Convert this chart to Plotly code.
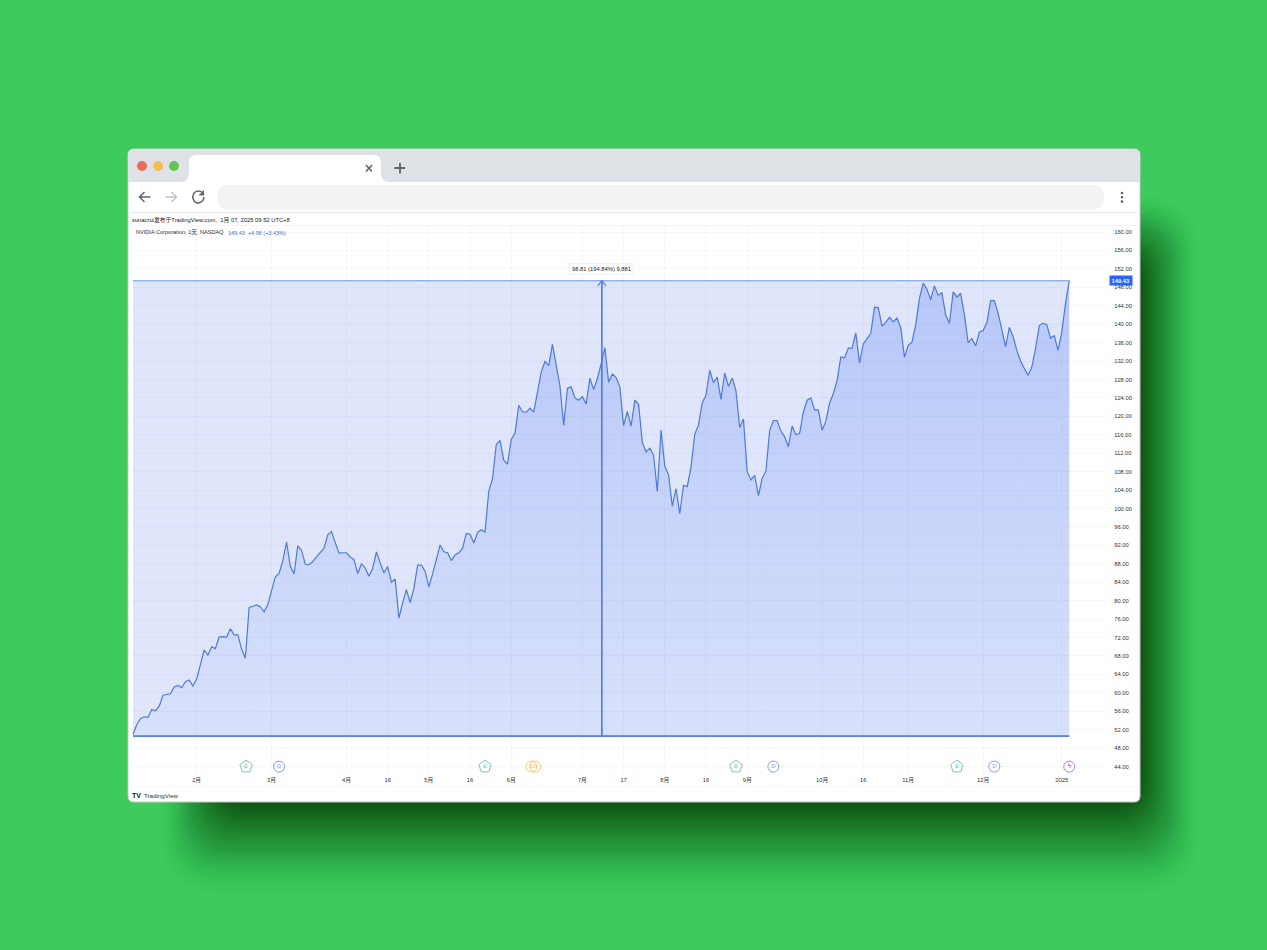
import plotly.graph_objects as go

W, H = 1267, 950

# ---- data (NVDA daily close) ----
jan24 = [51.0,53.1,54.4,54.8,54.7,56.4,56.1,57.1,59.5,59.6,59.8,61.3,61.6,61.1,62.4,62.8,61.5]
feb24 = [63.0,66.1,69.3,68.2,70.0,69.6,72.1,72.2,72.1,73.9,72.6,72.6,69.5,67.5,78.5,78.8,79.1,78.7,77.6,79.1]
mar24 = [82.3,85.2,85.9,88.7,92.7,87.5,85.8,91.9,90.9,87.9,87.8,88.5,89.5,90.4,91.4,94.3,95.0,92.6,90.3,90.4]
apr24 = [90.4,89.5,88.9,85.9,88.0,87.1,85.3,87.0,90.6,88.2,86.0,87.4,84.0,84.7,76.2,79.5,82.4,79.6,82.6,87.7,87.7,86.4]
may24 = [83.0,85.8,88.8,92.1,90.6,90.4,88.7,89.9,90.4,91.4,94.6,94.4,92.5,94.8,95.4,94.9,103.8,106.5,113.9,114.8,110.5,109.6]
jun24 = [115.0,116.4,122.4,121.0,120.9,121.8,120.9,125.2,129.6,131.9,131.0,135.6,130.8,126.6,118.1,126.1,126.4,124.0,123.5]
jul24 = [124.3,122.7,128.3,125.8,128.2,131.4,134.9,127.4,129.2,128.4,126.4,118.0,121.1,117.9,123.5,122.6,114.3,112.3,113.1,111.6,103.7,117.0]
aug24 = [109.2,107.3,100.5,104.3,98.9,105.0,104.8,109.0,116.1,118.1,122.9,124.6,130.0,127.3,128.5,123.7,129.4,126.5,128.3,125.6,117.6,119.4]
sep24 = [108.0,106.2,107.2,102.8,106.5,108.1,116.9,119.1,119.1,116.8,115.6,113.4,117.9,116.0,116.3,120.9,123.5,124.0,121.4,121.4]
oct24 = [117.0,118.9,122.9,124.9,127.7,132.9,132.7,134.8,134.8,138.1,131.6,135.7,136.9,138.0,143.7,143.6,139.6,140.4,141.5,140.5,141.3,139.3,132.8]
nov24 = [135.4,136.1,139.9,145.6,148.9,147.6,145.3,148.3,146.3,146.8,142.0,140.2,147.0,145.9,146.7,142.0,136.0,136.9,135.3,138.3]
dec24 = [138.6,140.3,145.1,145.1,142.4,138.8,135.1,139.3,137.3,134.3,132.0,130.4,128.9,130.7,134.7,139.7,140.2,139.9,137.0,137.5,134.3]
jan25 = [138.3,144.5,149.43]
close = jan24+feb24+mar24+apr24+may24+jun24+jul24+aug24+sep24+oct24+nov24+dec24+jan25
bars = list(range(len(close)))

tick_bars = [17,37,57,68,79,90,101,120,131,142,153,164,184,195,207,227,248]
tick_text = ["2月","3月","4月","16","5月","16","6月","7月","17","8月","16","9月","10月","16","11月","12月","2025"]

range_low, range_high = 50.62, 149.43
range_bar = 125.2
range_label = "98.81 (194.84%) 9,881"

earn_bars = [30.2, 94, 161, 220]
div_bars = [39, 171, 230]
split_bars = [107.4, 106.4]
flash_bars = [250]
event_level = 44

CH = "Liberation Sans, Noto Sans CJK SC, sans-serif"
BLUE = "#4E79DE"

# ---- pixel helpers for the browser-window decoration ----
def px(x): return x / W
def py(y): return 1 - y / H
def P(x, y): return f"{px(x):.5f},{py(y):.5f}"

def rrect(x0, y0, x1, y1, r, fill, op=1.0, line=None):
    path = (f"M{P(x0+r,y0)} L{P(x1-r,y0)} Q{P(x1,y0)} {P(x1,y0+r)} L{P(x1,y1-r)} "
            f"Q{P(x1,y1)} {P(x1-r,y1)} L{P(x0+r,y1)} Q{P(x0,y1)} {P(x0,y1-r)} "
            f"L{P(x0,y0+r)} Q{P(x0,y0)} {P(x0+r,y0)} Z")
    return dict(type="path", xref="paper", yref="paper", path=path, fillcolor=fill, opacity=op,
                line=dict(width=0) if not line else line, layer="below")

def stroke(path, color, w=1.6):
    return dict(type="path", xref="paper", yref="paper", path=path, line=dict(color=color, width=w), layer="below")

def circle(cx, cy, r, fill):
    return dict(type="circle", xref="paper", yref="paper", x0=px(cx-r), x1=px(cx+r), y0=py(cy+r), y1=py(cy-r),
                fillcolor=fill, line=dict(width=0), layer="below")

shapes = []
# soft shadow built from stacked translucent rounded rectangles
LAYERS = 48
for k in range(LAYERS):
    t = k / (LAYERS - 1)
    shapes.append(rrect(160+60*t, 195+60*t, 1200-60*t, 895-92*t, 60-25*t, "#001a0a", 0.003+0.042*t**1.5))

# window
shapes.append(rrect(128, 149, 1140, 802, 6, "#FFFFFF", line=dict(color="#C9CDC9", width=1)))
tabstrip = (f"M{P(128,182)} L{P(128,155)} Q{P(128,149)} {P(134,149)} L{P(1134,149)} Q{P(1140,149)} {P(1140,155)} "
            f"L{P(1140,182)} Z")
shapes.append(dict(type="path", xref="paper", yref="paper", path=tabstrip, fillcolor="#DEE1E6", line=dict(width=0), layer="below"))
tab = (f"M{P(181,182)} Q{P(189,181)} {P(189,174)} L{P(189,162)} Q{P(189,155)} {P(196,155)} L{P(374,155)} "
       f"Q{P(381,155)} {P(381,162)} L{P(381,174)} Q{P(381,181)} {P(389,182)} Z")
shapes.append(dict(type="path", xref="paper", yref="paper", path=tab, fillcolor="#FFFFFF", line=dict(width=0), layer="below"))
shapes.append(rrect(217, 185, 1104, 209.5, 12, "#F1F3F4"))
shapes.append(dict(type="line", xref="paper", yref="paper", x0=px(130), x1=px(1138), y0=py(212.5), y1=py(212.5),
                   line=dict(color="#E8EAED", width=1), layer="below"))
shapes.append(dict(type="line", xref="paper", yref="paper", x0=px(131), x1=px(1137), y0=py(225.5), y1=py(225.5),
                   line=dict(color="#F3F4F6", width=1), layer="below"))
shapes.append(dict(type="line", xref="paper", yref="paper", x0=px(131), x1=px(1137), y0=py(786.5), y1=py(786.5),
                   line=dict(color="#F6F7F8", width=1), layer="below"))
shapes += [circle(142,166,5,"#EC6A5E"), circle(158,166,5,"#F4BF4F"), circle(174,166,5,"#61C554")]
# tab close, new tab
shapes.append(stroke(f"M{P(366,165)} L{P(372,171.5)} M{P(372,165)} L{P(366,171.5)}", "#5F6368", 1.5))
shapes.append(stroke(f"M{P(400,163)} L{P(400,173.5)} M{P(394.5,168)} L{P(405,168)}", "#5F6368", 1.8))
# nav icons
shapes.append(stroke(f"M{P(150.5,197)} L{P(139.5,197)} M{P(144.5,192)} L{P(139.5,197)} L{P(144.5,202)}", "#5F6368", 1.5))
shapes.append(stroke(f"M{P(165.5,197)} L{P(176.5,197)} M{P(171.5,192)} L{P(176.5,197)} L{P(171.5,202)}", "#BDC1C6", 1.4))
shapes.append(stroke(f"M{P(202.5,192.5)} Q{P(198,189.5)} {P(194.5,192.5)} Q{P(191,197)} {P(194.5,201.5)} Q{P(199,204.5)} {P(202.5,201)} Q{P(204,199)} {P(203.8,197)}", "#5F6368", 1.5))
shapes.append(dict(type="path", xref="paper", yref="paper", path=f"M{P(204,190)} L{P(204,195.5)} L{P(198.5,195.5)} Z",
                   fillcolor="#5F6368", line=dict(width=0), layer="below"))
shapes += [circle(1122,193,1.3,"#5F6368"), circle(1122,197.3,1.3,"#5F6368"), circle(1122,201.6,1.3,"#5F6368")]

fig = go.Figure()
# outer range rectangle
fig.add_trace(go.Scatter(x=[bars[0], bars[-1]], y=[range_low, range_low], mode="lines",
                         line=dict(color=BLUE, width=1.1), hoverinfo="skip"))
fig.add_trace(go.Scatter(x=[bars[0], bars[-1]], y=[range_high, range_high], mode="lines", fill="tonexty",
                         fillcolor="rgba(60,105,235,0.165)", line=dict(color="#6F93E6", width=1.1), hoverinfo="skip"))
# base for area, then price area
fig.add_trace(go.Scatter(x=[bars[0], bars[-1]], y=[range_low, range_low], mode="lines",
                         line=dict(color=BLUE, width=1.1), hoverinfo="skip"))
fig.add_trace(go.Scatter(x=bars, y=close, mode="lines", fill="tonexty",
                         fillgradient=dict(type="vertical",
                                           colorscale=[[0, "rgba(60,105,235,0.04)"], [1, "rgba(60,105,235,0.25)"]]),
                         line=dict(color=BLUE, width=1.2), hoverinfo="skip"))
# vertical range arrow
fig.add_trace(go.Scatter(x=[range_bar, range_bar], y=[range_low, range_high], mode="lines",
                         line=dict(color=BLUE, width=1.6), hoverinfo="skip"))
fig.add_trace(go.Scatter(x=[range_bar-1.1, range_bar, range_bar+1.1], y=[range_high-1.1, range_high, range_high-1.1],
                         mode="lines", line=dict(color=BLUE, width=1.2), hoverinfo="skip"))
# event markers
def events(xs, symbol, color, label, size=11, fs=6):
    fig.add_trace(go.Scatter(x=xs, y=[event_level]*len(xs), mode="markers+text", text=[label]*len(xs),
                             textposition="middle center", textfont=dict(size=fs, color=color, family=CH),
                             marker=dict(symbol=symbol, size=size, color=color, line=dict(color=color, width=1)),
                             hoverinfo="skip"))
events(earn_bars, "pentagon-open", "#7CC7AE", "E", 13)
events(div_bars, "circle-open", "#7F9CEE", "D", 11)
events(split_bars, "circle-open", "#F5C66F", "S", 11)
events(flash_bars, "circle-open", "#B77BD8", "<b>ϟ</b>", 11, 7)

annotations = []
def text(x, y, s, size=6, color="#333333", anchor="left", **kw):
    annotations.append(dict(xref="paper", yref="paper", x=px(x), y=py(y), text=s, showarrow=False,
                            xanchor=anchor, yanchor="middle", font=dict(size=size, color=color, family=CH), **kw))

text(129.5, 219.5, "sunacrui发布于TradingView.com,  1月 07, 2025 09:52 UTC+8", 5.8, "#222222")
text(134, 232.8, "NVIDIA Corporation, 1天, NASDAQ", 5.6, "#333333")
text(225.5, 232.8, "149.43  +4.96 (+3.43%)", 5.5, "#3B6FE0")
text(130, 795, "<b>TV</b>", 7, "#111111")
text(141.5, 795, "TradingView", 6.2, "#333333")
# measuring label and last-price tag
annotations.append(dict(xref="x", yref="y", x=range_bar, y=range_high, yshift=11.5, text=range_label, showarrow=False,
                        bgcolor="#FFFFFF", bordercolor="#F1F1F3", borderwidth=1, borderpad=2,
                        font=dict(size=5.8, color="#222222", family=CH)))
annotations.append(dict(xref="paper", yref="y", x=px(1121), xanchor="center", y=range_high, text="<b>149.43</b>", showarrow=False,
                        bgcolor="#2962FF", borderpad=1.5, font=dict(size=5.8, color="#FFFFFF", family=CH)))

y_top = 160 + (232 - 226) / 4.609
y_bot = 44 - (773 - 766.6) / 4.609
x_lo = (131 - 133) / 3.745
x_hi = (1105 - 133) / 3.745

fig.update_layout(
    width=W, height=H, autosize=False, showlegend=False, hovermode=False,
    margin=dict(l=0, r=0, t=0, b=0),
    paper_bgcolor="#3ECA5C", plot_bgcolor="rgba(0,0,0,0)",
    shapes=shapes, annotations=annotations,
    xaxis=dict(domain=[px(131), px(1105)], range=[x_lo, x_hi], tickmode="array", tickvals=tick_bars, ticktext=tick_text,
               showgrid=True, gridcolor="#F6F7F9", gridwidth=1, zeroline=False, showline=False,
               ticks="outside", ticklen=1, tickcolor="rgba(0,0,0,0)",
               tickfont=dict(size=5.8, color="#333333", family=CH)),
    yaxis=dict(domain=[py(773), py(226)], range=[y_bot, y_top], side="right", tick0=44, dtick=4, tickformat=".2f",
               showgrid=True, gridcolor="#F6F7F9", gridwidth=1, zeroline=False, showline=False,
               ticks="outside", ticklen=7, tickcolor="rgba(0,0,0,0)",
               tickfont=dict(size=5.8, color="#333333", family=CH)),
)

fig.write_html("out.html", config=dict(displayModeBar=False),
               post_script="document.body.style.margin='0';document.documentElement.style.overflow='hidden';")
